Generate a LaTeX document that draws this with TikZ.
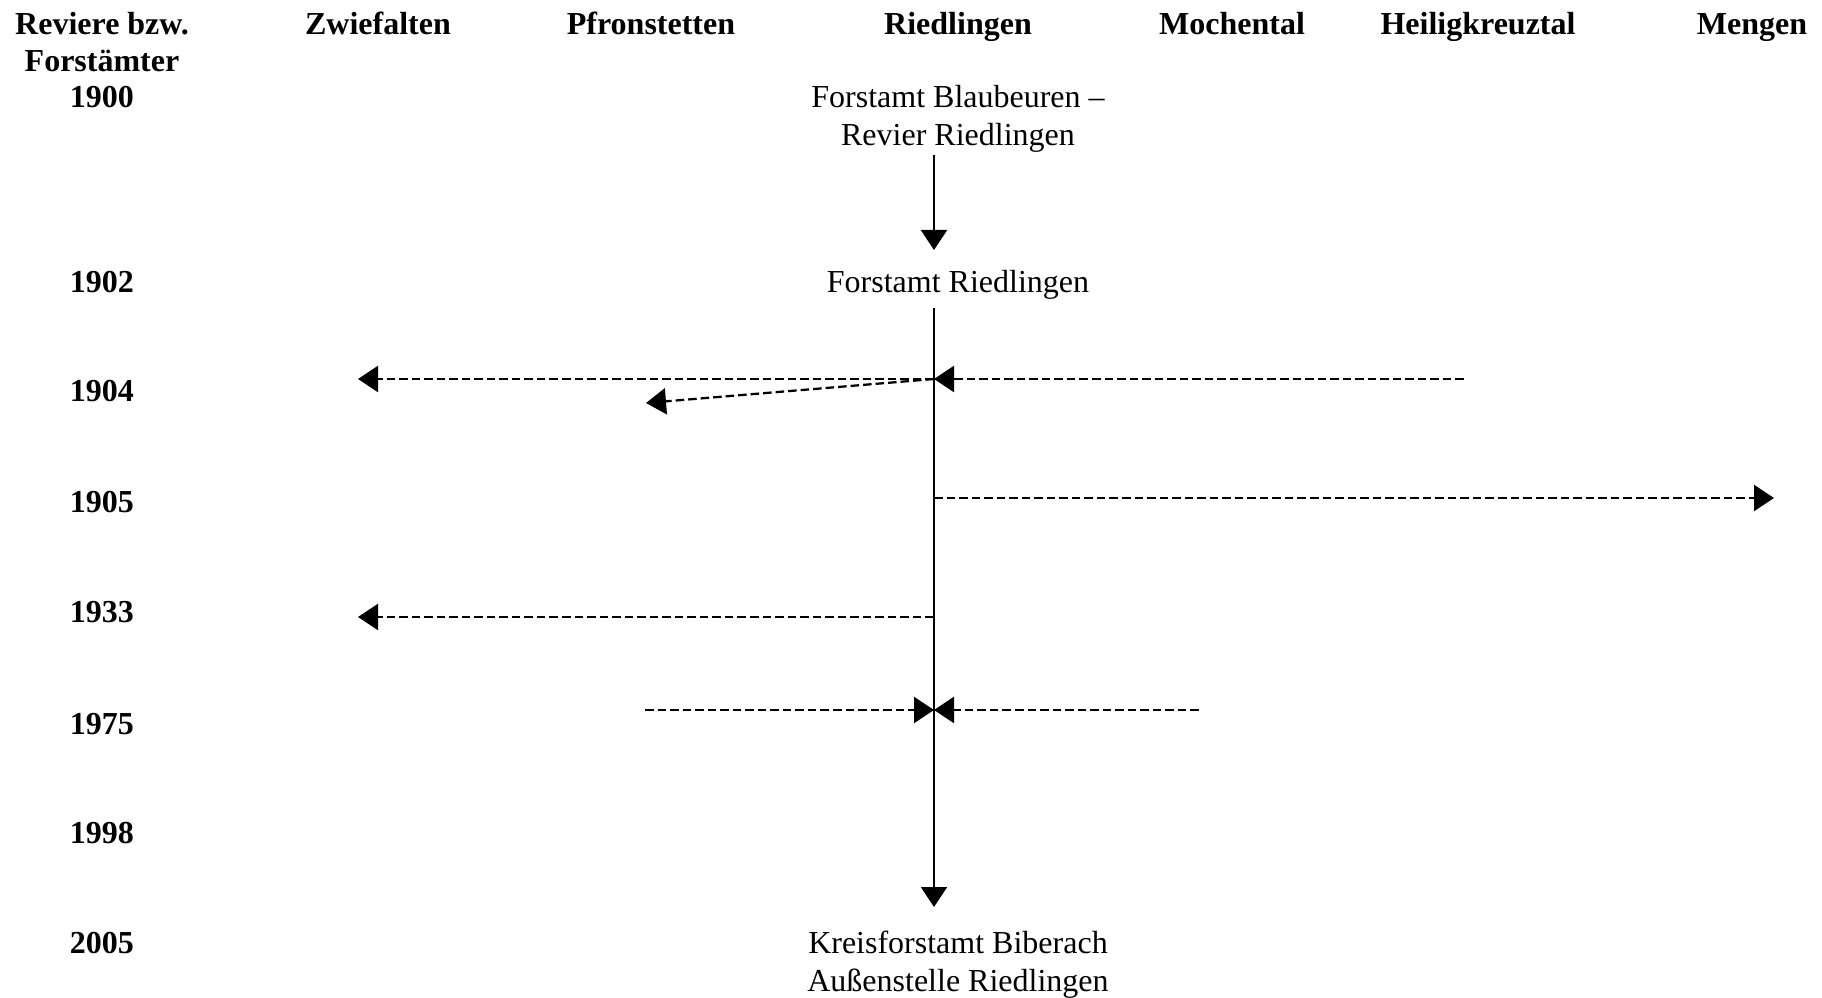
\documentclass[tikz,border=0pt]{standalone}
\usepackage{fontspec}
\setmainfont{Liberation Serif}
\usetikzlibrary{arrows.meta}
\begin{document}
\begin{tikzpicture}[x=0.375pt,y=-0.375pt,
  lbl/.style={font=\fontsize{12pt}{14.2pt}\selectfont, text height=8pt, text depth=2.6pt, inner sep=0pt, align=center},
  head/.style={lbl, font=\fontsize{12pt}{14.2pt}\selectfont\bfseries},
  conn/.style={line width=0.75pt, -{Triangle[length=7.5pt,width=9.75pt]}},
  dsh/.style={line width=0.85pt, dash pattern=on 3.2pt off 1.5pt}
]
\useasboundingbox (0,0) rectangle (1822,998);
% header
\node[head] (h0) at (102,27) {Reviere bzw.};
\node[head] (h0b) at (102,64) {Forstämter};
\node[head] (h1) at (378,27) {Zwiefalten};
\node[head] (h2) at (651,27) {Pfronstetten};
\node[head] (h3) at (958,27) {Riedlingen};
\node[head] (h4) at (1232,27) {Mochental};
\node[head] (h5) at (1478,27) {Heiligkreuztal};
\node[head] (h6) at (1752,27) {Mengen};
% years
\node[head] (y1900) at (102,100) {1900};
\node[head] (y1902) at (102,285) {1902};
\node[head] (y1904) at (102,394) {1904};
\node[head] (y1905) at (102,505) {1905};
\node[head] (y1933) at (102,615) {1933};
\node[head] (y1975) at (102,727) {1975};
\node[head] (y1998) at (102,836) {1998};
\node[head] (y2005) at (102,946) {2005};
% main labels
\node[lbl] (blau) at (958,100) {Forstamt Blaubeuren –};
\node[lbl] (blau2) at (958,138) {Revier Riedlingen};
\node[lbl] (fried) at (958,285) {Forstamt Riedlingen};
\node[lbl] (kreis) at (958,946) {Kreisforstamt Biberach};
\node[lbl] (kreis2) at (958,984) {Außenstelle Riedlingen};
% timeline coordinates
\coordinate (a0) at (934,155);
\coordinate (a1) at (934,250);
\coordinate (t0) at (934,308);
\coordinate (t1904) at (934,379);
\coordinate (t1905) at (934,498);
\coordinate (t1933) at (934,617);
\coordinate (t1975) at (934,710);
\coordinate (tend) at (934,907);
% endpoints
\coordinate (hk1904) at (1464,379);
\coordinate (zw1904) at (358,379);
\coordinate (pf1904) at (646,403);
\coordinate (me1905) at (1774,498);
\coordinate (zw1933) at (358,617);
\coordinate (pf1975) at (645,710);
\coordinate (mo1975) at (1199,710);
% connectors
\draw[conn] (a0) -- (a1);
\draw[conn] (t0) -- (tend);
\draw[conn,dsh] (hk1904) -- (t1904);
\draw[conn,dsh] (t1904) -- (zw1904);
\draw[conn,dsh] (t1904) -- (pf1904);
\draw[conn,dsh] (t1905) -- (me1905);
\draw[conn,dsh] (t1933) -- (zw1933);
\draw[conn,dsh] (pf1975) -- (t1975);
\draw[conn,dsh] (mo1975) -- (t1975);
\end{tikzpicture}
\end{document}
